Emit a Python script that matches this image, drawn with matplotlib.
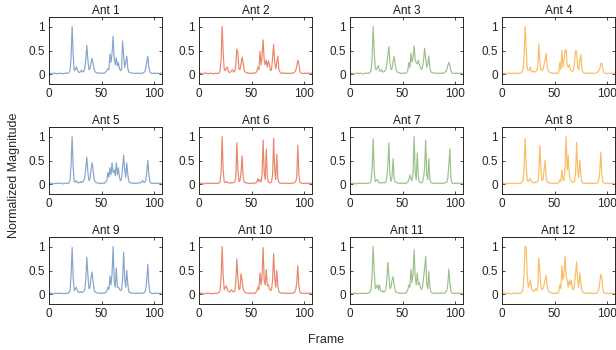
import numpy as np
import matplotlib.pyplot as plt

plt.rcParams['font.family'] = ['Liberation Sans', 'DejaVu Sans']

titles = ['Ant %d' % i for i in range(1, 13)]
colors = ['#86a5cc', '#e8866b', '#9cc08a', '#f9bd63']

ant1 = [0.02, 0.03, 0.02, 0.01, 0.02, 0.03, 0.02, 0.02, 0.01, 0.02,
        0.02, 0.03, 0.02, 0.01, 0.02, 0.02, 0.03, 0.02, 0.03, 0.04,
        0.08, 0.35, 1.00, 0.40, 0.08, 0.10, 0.16, 0.10, 0.05, 0.04,
        0.06, 0.09, 0.05, 0.06, 0.12, 0.30, 0.61, 0.30, 0.10, 0.12,
        0.25, 0.33, 0.22, 0.10, 0.05, 0.04, 0.03, 0.03, 0.02, 0.03,
        0.02, 0.03, 0.02, 0.03, 0.05, 0.08, 0.12, 0.10, 0.43, 0.25,
        0.45, 0.80, 0.35, 0.20, 0.35, 0.18, 0.25, 0.12, 0.08, 0.10,
        0.70, 0.40, 0.15, 0.25, 0.38, 0.12, 0.05, 0.04, 0.03, 0.03,
        0.02, 0.03, 0.02, 0.02, 0.03, 0.02, 0.03, 0.02, 0.02, 0.03,
        0.04, 0.05, 0.12, 0.25, 0.38, 0.15, 0.05, 0.03, 0.02, 0.02,
        0.03, 0.02, 0.02, 0.03, 0.02, 0.02, 0.03, 0.02]
ant2 = [0.02, 0.02, 0.03, 0.02, 0.01, 0.02, 0.03, 0.03, 0.02, 0.01,
        0.02, 0.03, 0.02, 0.02, 0.01, 0.02, 0.03, 0.02, 0.02, 0.03,
        0.07, 0.30, 1.00, 0.45, 0.10, 0.08, 0.14, 0.15, 0.06, 0.04,
        0.05, 0.08, 0.10, 0.05, 0.06, 0.20, 0.53, 0.45, 0.12, 0.10,
        0.22, 0.36, 0.25, 0.08, 0.05, 0.04, 0.03, 0.03, 0.02, 0.03,
        0.02, 0.03, 0.02, 0.03, 0.04, 0.06, 0.15, 0.10, 0.48, 0.20,
        0.40, 0.72, 0.30, 0.20, 0.30, 0.15, 0.28, 0.20, 0.08, 0.10,
        0.35, 0.63, 0.25, 0.12, 0.25, 0.38, 0.10, 0.05, 0.03, 0.03,
        0.02, 0.03, 0.02, 0.03, 0.02, 0.02, 0.03, 0.02, 0.02, 0.03,
        0.03, 0.05, 0.08, 0.18, 0.30, 0.22, 0.06, 0.03, 0.02, 0.02,
        0.02, 0.03, 0.02, 0.02, 0.03, 0.02, 0.02, 0.03]
ant3 = [0.02, 0.03, 0.02, 0.02, 0.01, 0.02, 0.02, 0.03, 0.02, 0.02,
        0.03, 0.02, 0.01, 0.02, 0.02, 0.03, 0.02, 0.03, 0.02, 0.04,
        0.08, 0.30, 1.00, 0.50, 0.12, 0.10, 0.15, 0.18, 0.08, 0.06,
        0.10, 0.06, 0.05, 0.07, 0.10, 0.20, 0.40, 0.58, 0.25, 0.10,
        0.12, 0.28, 0.38, 0.20, 0.08, 0.05, 0.04, 0.03, 0.03, 0.02,
        0.03, 0.02, 0.03, 0.02, 0.04, 0.08, 0.25, 0.15, 0.45, 0.25,
        0.35, 0.60, 0.30, 0.25, 0.22, 0.30, 0.20, 0.15, 0.10, 0.15,
        0.30, 0.55, 0.35, 0.15, 0.22, 0.38, 0.12, 0.05, 0.04, 0.03,
        0.03, 0.02, 0.03, 0.02, 0.02, 0.03, 0.02, 0.03, 0.02, 0.03,
        0.04, 0.06, 0.10, 0.18, 0.25, 0.20, 0.08, 0.03, 0.02, 0.02,
        0.03, 0.02, 0.03, 0.02, 0.02, 0.03, 0.02, 0.02]
ant4 = [0.02, 0.02, 0.03, 0.02, 0.02, 0.01, 0.02, 0.03, 0.02, 0.02,
        0.02, 0.03, 0.02, 0.02, 0.03, 0.02, 0.02, 0.03, 0.03, 0.05,
        0.10, 0.40, 1.00, 0.55, 0.12, 0.08, 0.10, 0.15, 0.06, 0.05,
        0.07, 0.05, 0.06, 0.08, 0.15, 0.63, 0.30, 0.10, 0.08, 0.10,
        0.20, 0.30, 0.44, 0.15, 0.08, 0.05, 0.04, 0.03, 0.03, 0.02,
        0.03, 0.02, 0.03, 0.02, 0.04, 0.25, 0.10, 0.50, 0.15, 0.30,
        0.50, 0.52, 0.20, 0.15, 0.20, 0.10, 0.08, 0.06, 0.10, 0.25,
        0.50, 0.48, 0.15, 0.10, 0.30, 0.42, 0.10, 0.05, 0.03, 0.03,
        0.02, 0.03, 0.02, 0.02, 0.03, 0.02, 0.03, 0.02, 0.02, 0.03,
        0.03, 0.05, 0.08, 0.12, 0.22, 0.24, 0.10, 0.04, 0.02, 0.02,
        0.02, 0.03, 0.02, 0.02, 0.03, 0.02, 0.02, 0.03]
ant5 = [0.02, 0.03, 0.02, 0.02, 0.01, 0.02, 0.02, 0.03, 0.02, 0.02,
        0.02, 0.03, 0.02, 0.02, 0.01, 0.02, 0.03, 0.02, 0.02, 0.04,
        0.08, 0.40, 1.00, 0.35, 0.06, 0.05, 0.08, 0.04, 0.03, 0.04,
        0.06, 0.04, 0.05, 0.07, 0.15, 0.35, 0.57, 0.25, 0.08, 0.12,
        0.30, 0.45, 0.30, 0.10, 0.05, 0.04, 0.03, 0.03, 0.02, 0.03,
        0.02, 0.03, 0.02, 0.03, 0.05, 0.08, 0.25, 0.15, 0.35, 0.20,
        0.45, 0.25, 0.30, 0.18, 0.45, 0.20, 0.35, 0.15, 0.08, 0.12,
        0.35, 0.61, 0.30, 0.15, 0.45, 0.20, 0.06, 0.04, 0.03, 0.03,
        0.02, 0.03, 0.02, 0.03, 0.02, 0.03, 0.04, 0.03, 0.05, 0.08,
        0.05, 0.04, 0.08, 0.25, 0.50, 0.20, 0.06, 0.03, 0.02, 0.02,
        0.03, 0.02, 0.02, 0.03, 0.02, 0.02, 0.03, 0.02]
ant6 = [0.02, 0.02, 0.03, 0.02, 0.02, 0.01, 0.02, 0.02, 0.03, 0.02,
        0.02, 0.02, 0.03, 0.02, 0.02, 0.02, 0.03, 0.02, 0.02, 0.03,
        0.05, 0.25, 1.00, 0.30, 0.05, 0.04, 0.06, 0.05, 0.03, 0.03,
        0.03, 0.04, 0.03, 0.04, 0.05, 0.15, 0.87, 0.30, 0.06, 0.08,
        0.25, 0.60, 0.15, 0.05, 0.04, 0.03, 0.03, 0.02, 0.02, 0.03,
        0.02, 0.03, 0.02, 0.03, 0.03, 0.05, 0.12, 0.06, 0.10, 0.05,
        0.20, 0.93, 0.25, 0.10, 0.74, 0.15, 0.05, 0.04, 0.03, 0.05,
        0.20, 0.96, 0.30, 0.10, 0.63, 0.12, 0.04, 0.03, 0.03, 0.02,
        0.02, 0.03, 0.02, 0.02, 0.03, 0.02, 0.02, 0.03, 0.02, 0.03,
        0.03, 0.04, 0.06, 0.15, 0.82, 0.20, 0.04, 0.03, 0.02, 0.02,
        0.02, 0.03, 0.02, 0.02, 0.03, 0.02, 0.02, 0.03]
ant7 = [0.02, 0.02, 0.02, 0.03, 0.02, 0.02, 0.01, 0.02, 0.02, 0.03,
        0.02, 0.02, 0.03, 0.02, 0.02, 0.02, 0.03, 0.02, 0.03, 0.03,
        0.06, 0.30, 0.95, 0.30, 0.06, 0.08, 0.10, 0.05, 0.03, 0.03,
        0.04, 0.03, 0.04, 0.03, 0.05, 0.15, 0.40, 0.87, 0.20, 0.06,
        0.15, 0.54, 0.12, 0.05, 0.04, 0.03, 0.03, 0.02, 0.03, 0.02,
        0.03, 0.02, 0.03, 0.02, 0.03, 0.05, 0.10, 0.20, 0.12, 0.08,
        0.25, 1.00, 0.25, 0.10, 0.66, 0.15, 0.05, 0.04, 0.03, 0.05,
        0.15, 0.35, 0.93, 0.20, 0.10, 0.54, 0.10, 0.04, 0.03, 0.03,
        0.02, 0.03, 0.02, 0.02, 0.03, 0.02, 0.03, 0.02, 0.02, 0.03,
        0.03, 0.04, 0.05, 0.12, 0.40, 0.74, 0.12, 0.03, 0.02, 0.02,
        0.02, 0.03, 0.02, 0.03, 0.02, 0.02, 0.03, 0.02]
ant8 = [0.02, 0.03, 0.02, 0.02, 0.02, 0.01, 0.02, 0.03, 0.02, 0.02,
        0.02, 0.03, 0.02, 0.02, 0.02, 0.03, 0.02, 0.02, 0.03, 0.04,
        0.08, 0.35, 0.96, 0.40, 0.08, 0.06, 0.10, 0.12, 0.05, 0.04,
        0.04, 0.03, 0.05, 0.04, 0.06, 0.20, 0.82, 0.35, 0.08, 0.10,
        0.30, 0.50, 0.15, 0.05, 0.04, 0.03, 0.03, 0.02, 0.02, 0.03,
        0.02, 0.03, 0.02, 0.03, 0.04, 0.10, 0.06, 0.30, 0.10, 0.08,
        0.35, 1.00, 0.30, 0.61, 0.20, 0.10, 0.06, 0.05, 0.04, 0.06,
        0.25, 0.88, 0.30, 0.15, 0.51, 0.20, 0.05, 0.03, 0.03, 0.02,
        0.03, 0.02, 0.02, 0.03, 0.02, 0.03, 0.02, 0.02, 0.03, 0.02,
        0.03, 0.04, 0.08, 0.25, 0.68, 0.20, 0.05, 0.03, 0.02, 0.02,
        0.03, 0.02, 0.02, 0.03, 0.02, 0.03, 0.02, 0.02]
ant9 = [0.02, 0.03, 0.02, 0.02, 0.01, 0.02, 0.03, 0.02, 0.02, 0.03,
        0.02, 0.02, 0.03, 0.02, 0.01, 0.02, 0.02, 0.03, 0.02, 0.04,
        0.08, 0.40, 0.98, 0.35, 0.08, 0.12, 0.15, 0.08, 0.05, 0.04,
        0.06, 0.04, 0.05, 0.06, 0.10, 0.30, 0.78, 0.40, 0.12, 0.15,
        0.35, 0.47, 0.25, 0.08, 0.05, 0.04, 0.03, 0.03, 0.02, 0.03,
        0.02, 0.03, 0.02, 0.03, 0.04, 0.08, 0.15, 0.10, 0.38, 0.20,
        0.45, 1.00, 0.30, 0.15, 0.55, 0.15, 0.15, 0.12, 0.08, 0.10,
        0.30, 0.88, 0.35, 0.15, 0.50, 0.20, 0.05, 0.04, 0.03, 0.03,
        0.02, 0.03, 0.02, 0.02, 0.03, 0.02, 0.03, 0.02, 0.02, 0.03,
        0.03, 0.05, 0.10, 0.30, 0.63, 0.20, 0.05, 0.03, 0.02, 0.02,
        0.02, 0.03, 0.02, 0.02, 0.03, 0.02, 0.02, 0.03]
ant10 = [0.02, 0.02, 0.03, 0.02, 0.02, 0.01, 0.02, 0.03, 0.02, 0.02,
         0.03, 0.02, 0.02, 0.01, 0.02, 0.03, 0.02, 0.02, 0.03, 0.04,
         0.08, 0.35, 1.00, 0.40, 0.10, 0.15, 0.18, 0.10, 0.06, 0.05,
         0.07, 0.10, 0.06, 0.05, 0.08, 0.25, 0.74, 0.35, 0.10, 0.12,
         0.43, 0.30, 0.12, 0.06, 0.04, 0.03, 0.03, 0.02, 0.03, 0.02,
         0.03, 0.02, 0.03, 0.02, 0.04, 0.08, 0.15, 0.10, 0.45, 0.20,
         0.40, 0.98, 0.30, 0.20, 0.52, 0.18, 0.20, 0.12, 0.08, 0.10,
         0.30, 0.85, 0.35, 0.15, 0.50, 0.18, 0.05, 0.04, 0.03, 0.03,
         0.02, 0.03, 0.02, 0.03, 0.02, 0.02, 0.03, 0.02, 0.02, 0.03,
         0.03, 0.05, 0.10, 0.25, 0.60, 0.18, 0.05, 0.03, 0.02, 0.02,
         0.03, 0.02, 0.02, 0.03, 0.02, 0.02, 0.03, 0.02]
ant11 = [0.04, 0.03, 0.02, 0.02, 0.03, 0.02, 0.02, 0.01, 0.02, 0.03,
         0.02, 0.02, 0.03, 0.02, 0.02, 0.03, 0.02, 0.03, 0.03, 0.05,
         0.10, 0.40, 1.00, 0.50, 0.12, 0.15, 0.20, 0.10, 0.20, 0.08,
         0.06, 0.08, 0.05, 0.06, 0.10, 0.30, 0.67, 0.40, 0.12, 0.15,
         0.30, 0.37, 0.20, 0.08, 0.05, 0.04, 0.03, 0.03, 0.02, 0.03,
         0.02, 0.03, 0.02, 0.03, 0.05, 0.10, 0.20, 0.15, 0.53, 0.25,
         0.45, 0.93, 0.35, 0.20, 0.45, 0.20, 0.25, 0.15, 0.10, 0.15,
         0.35, 0.55, 0.80, 0.20, 0.12, 0.48, 0.15, 0.05, 0.03, 0.03,
         0.02, 0.03, 0.02, 0.02, 0.03, 0.02, 0.03, 0.02, 0.03, 0.02,
         0.03, 0.05, 0.08, 0.20, 0.53, 0.25, 0.06, 0.03, 0.02, 0.02,
         0.02, 0.03, 0.02, 0.03, 0.02, 0.02, 0.03, 0.02]
ant12 = [0.03, 0.04, 0.02, 0.03, 0.02, 0.02, 0.03, 0.02, 0.01, 0.02,
         0.02, 0.03, 0.02, 0.02, 0.03, 0.02, 0.02, 0.03, 0.03, 0.05,
         0.12, 0.45, 1.00, 0.97, 0.40, 0.15, 0.20, 0.30, 0.12, 0.10,
         0.06, 0.08, 0.12, 0.08, 0.15, 0.76, 0.50, 0.15, 0.10, 0.12,
         0.20, 0.30, 0.40, 0.18, 0.08, 0.05, 0.04, 0.03, 0.03, 0.02,
         0.03, 0.02, 0.03, 0.02, 0.05, 0.20, 0.12, 0.60, 0.30, 0.45,
         0.80, 0.40, 0.30, 0.15, 0.30, 0.20, 0.30, 0.12, 0.10, 0.20,
         0.45, 0.68, 0.30, 0.15, 0.45, 0.25, 0.08, 0.04, 0.03, 0.03,
         0.02, 0.03, 0.02, 0.03, 0.02, 0.03, 0.02, 0.02, 0.03, 0.02,
         0.03, 0.05, 0.10, 0.25, 0.42, 0.35, 0.10, 0.04, 0.02, 0.02,
         0.03, 0.02, 0.02, 0.03, 0.02, 0.02, 0.03, 0.02]

series = [ant1, ant2, ant3, ant4, ant5, ant6, ant7, ant8, ant9, ant10, ant11, ant12]

fig = plt.figure(figsize=(6.16, 3.5), dpi=100)

lefts = [49, 199, 350, 502]
tops = [17, 127, 237]
w, h = 113, 67

for i, y in enumerate(series):
    r, c = divmod(i, 4)
    ax = fig.add_axes([lefts[c] / 616, 1 - (tops[r] + h) / 350, w / 616, h / 350])
    ax.plot(np.arange(len(y)), y, color=colors[c], lw=0.85)
    ax.set_xlim(0, 107.5)
    ax.set_ylim(-0.2, 1.2)
    ax.set_xticks([0, 50, 100])
    ax.set_yticks([0, 0.5, 1])
    ax.set_yticklabels(['0', '0.5', '1'])
    ax.set_title(titles[i], fontsize=8.5, pad=2, color='#1a1a1a')
    ax.tick_params(direction='in', top=True, right=True, length=2.5, width=0.6,
                   labelsize=8.5, colors='#262626', pad=3)
    for s in ax.spines.values():
        s.set_color('#262626')
        s.set_linewidth(0.7)

fig.text(0.022, 0.5, 'Normalized Magnitude', rotation=90, ha='center', va='center',
         fontsize=9, color='#262626')
fig.text(0.53, 0.028, 'Frame', ha='center', va='center', fontsize=9, color='#262626')

fig.savefig('out.png', dpi=100)
